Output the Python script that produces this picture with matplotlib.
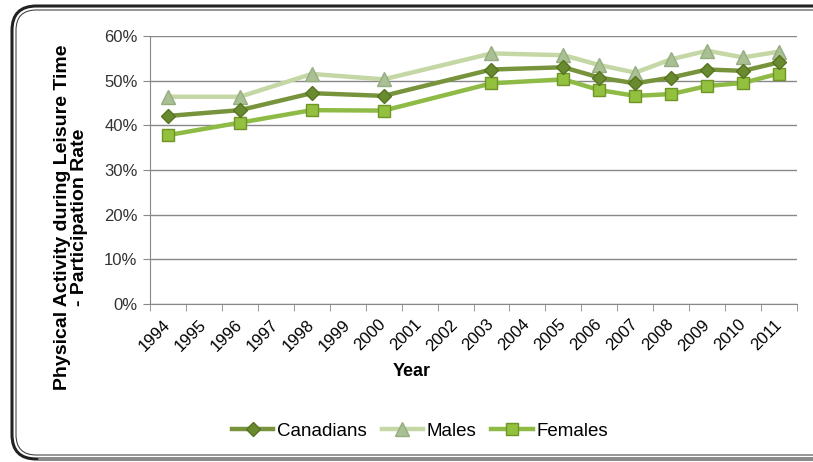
import matplotlib.pyplot as plt
import matplotlib.transforms as mtransforms
from matplotlib.patches import FancyBboxPatch
from matplotlib.lines import Line2D

plt.rcParams['font.family'] = ['Liberation Sans', 'DejaVu Sans']

# category axis: every year shown, data only for survey years
years = [str(y) for y in range(1994, 2012)]
data_years = ['1994', '1996', '1998', '2000', '2003', '2005', '2006', '2007', '2008', '2009', '2010', '2011']
canadians = [42.1, 43.4, 47.2, 46.6, 52.5, 53.0, 50.7, 49.4, 50.7, 52.5, 52.2, 54.1]
males = [46.4, 46.4, 51.5, 50.3, 56.1, 55.7, 53.5, 51.8, 54.8, 56.7, 55.2, 56.5]
females = [37.8, 40.6, 43.4, 43.3, 49.4, 50.3, 47.9, 46.6, 47.0, 48.8, 49.5, 51.6]

xpos = [years.index(y) for y in data_years]

W, H = 813, 462
fig = plt.figure(figsize=(W/100, H/100), dpi=100)
ax = fig.add_axes([150/W, 1-304/H, (797-150)/W, (304-36)/H])

# frame around the whole chart (runs off the right edge)
frame = FancyBboxPatch((12/W, 3/H), 840/W, 453/H, transform=fig.transFigure,
                       boxstyle="round,pad=0,rounding_size=0.03", fill=False,
                       edgecolor='#222222', linewidth=2.2, mutation_aspect=W/H)
frame2 = FancyBboxPatch((16/W, 7/H), 840/W, 445/H, transform=fig.transFigure,
                        boxstyle="round,pad=0,rounding_size=0.025", fill=False,
                        edgecolor='#444444', linewidth=0.8, mutation_aspect=W/H)
fig.patches.extend([frame, frame2])
fig.add_artist(Line2D([40/W, 1], [3/H, 3/H], color='#8a8a8a', linewidth=2.6))

ax.plot(xpos, males, color='#C4D7A4', linewidth=3.2, marker='^', markersize=10,
        markerfacecolor='#A9BF94', markeredgecolor='#95AC80', label='Males', zorder=3)
ax.plot(xpos, canadians, color='#77933C', linewidth=3.2, marker='D', markersize=7,
        markerfacecolor='#6A8A30', markeredgecolor='#56731F', label='Canadians', zorder=4)
ax.plot(xpos, females, color='#8EBB45', linewidth=3.2, marker='s', markersize=9,
        markerfacecolor='#93C03E', markeredgecolor='#6E9526', label='Females', zorder=3)

ax.set_xlim(-0.5, len(years) - 0.5)
ax.set_ylim(0, 60)
ax.set_yticks(range(0, 61, 10))
ax.set_yticklabels([f'{v}%' for v in range(0, 61, 10)], fontsize=12, color='#333333')
ax.set_xticks(range(len(years)))
ax.set_xticklabels(years, rotation=45, ha='right', va='center', rotation_mode='anchor', fontsize=12)
shift = mtransforms.ScaledTranslation(6/100, 0, fig.dpi_scale_trans)
for lbl in ax.get_xticklabels():
    lbl.set_transform(lbl.get_transform() + shift)
ax.set_xticks([i - 0.5 for i in range(len(years) + 1)], minor=True)
ax.tick_params(axis='x', which='major', length=0, pad=13)
ax.tick_params(axis='x', which='minor', length=5, color='#888888', direction='out')
ax.tick_params(axis='y', length=5, color='#888888', direction='out', pad=4)
ax.grid(axis='y', color='#888888', linewidth=1)
ax.set_axisbelow(True)
for s in ['top', 'right']:
    ax.spines[s].set_visible(False)
ax.spines['left'].set_color('#888888')
ax.spines['bottom'].set_color('#888888')

fig.text(412/W, 1-372/H, 'Year', fontsize=13, fontweight='bold', ha='center', va='center')
fig.text(71/W, 1-217/H, 'Physical Activity during Leisure Time\n- Participation Rate',
         fontsize=14, fontweight='bold', rotation=90, ha='center', va='center',
         multialignment='center', linespacing=1.0)

handles, labels = ax.get_legend_handles_labels()
order = [1, 0, 2]
fig.legend([handles[i] for i in order], [labels[i] for i in order], loc='center',
           bbox_to_anchor=(420/W, 1-431/H), ncol=3, frameon=False, fontsize=13.5,
           handlelength=2.2, handletextpad=0.2, columnspacing=0.8)

fig.savefig('out.png', dpi=100)
